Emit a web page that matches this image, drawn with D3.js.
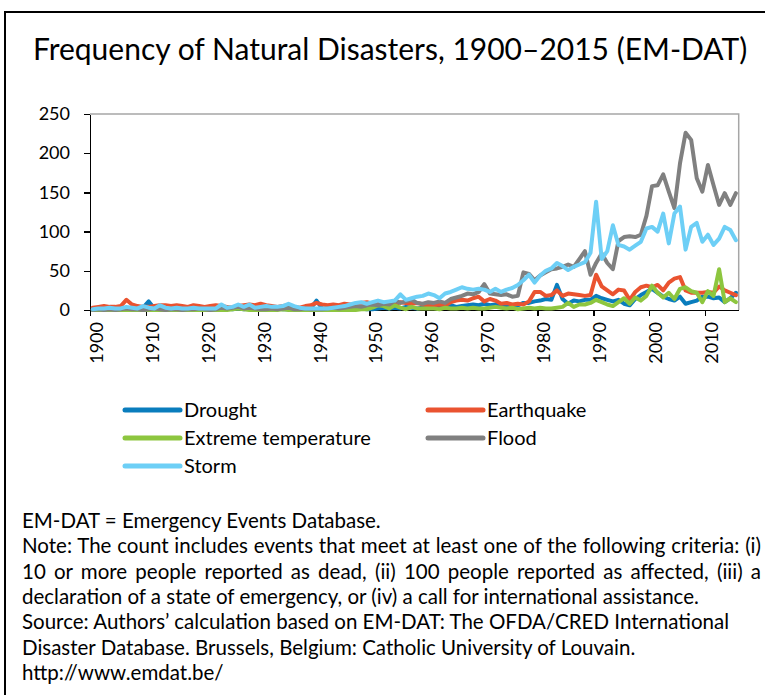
<!DOCTYPE html>
<meta charset="utf-8">
<style>
  body {
    margin: 0;
    background: #fff;
    font-family: Lato, sans-serif;
  }
  .axis path,
  .axis line {
    fill: none;
    stroke: #000;
    stroke-width: 1.5;
    shape-rendering: crispEdges;
  }
  .axis text {
    fill: #000;
    font-family: Lato, sans-serif;
    font-size: 18px;
  }
  .series {
    fill: none;
    stroke-width: 4;
    stroke-linejoin: round;
    stroke-linecap: round;
  }
  .legend text {
    font-family: Lato, sans-serif;
    font-size: 20px;
    fill: #000;
  }
  .note text {
    font-family: Lato, sans-serif;
    font-size: 20.5px;
    fill: #000;
  }
</style>
<body>
<script src="https://d3js.org/d3.v7.min.js"></script>
<script>
var years = d3.range(1900, 2016);

var drought = [
  0,1,0,1,2,1,0,2,1,3,
  11,2,1,0,1,2,1,0,1,2,
  1,2,0,1,2,1,2,1,2,1,
  1,2,1,2,1,1,2,1,1,2,
  12,2,1,2,1,2,2,3,2,1,
  1,2,3,2,3,2,4,3,2,3,
  3,4,3,5,6,4,5,6,7,6,
  8,6,7,5,5,4,6,9,9,11,
  12,14,13,32,14,8,12,11,13,13,
  18,15,13,11,13,8,6,14,19,23,
  27,22,17,14,12,17,8,10,12,17,
  17,15,16,10,15,22];

var earthquake = [
  3,4,5,4,4,5,13,7,5,4,
  4,5,6,6,5,6,5,4,6,5,
  4,5,6,5,4,3,5,6,7,6,
  8,6,5,4,5,6,4,3,5,6,
  9,7,6,7,6,8,7,6,9,10,
  8,9,6,8,7,10,9,8,9,7,
  6,6,7,6,10,12,13,12,15,17,
  11,14,12,8,9,7,8,7,11,23,
  23,18,19,25,18,21,20,19,18,19,
  45,30,25,20,26,25,13,23,29,31,
  29,32,25,35,40,42,25,22,22,22,
  23,22,30,25,22,19];

var extremeTemp = [
  0,0,0,0,0,0,0,0,0,0,
  0,0,0,0,0,0,0,0,0,0,
  0,0,0,0,0,1,2,1,0,0,
  0,0,0,0,1,0,0,0,0,0,
  0,0,0,0,0,0,0,0,1,1,
  3,6,5,2,6,3,1,4,2,2,
  2,2,1,3,2,2,3,2,3,2,
  2,3,4,3,2,3,1,2,3,2,
  3,2,2,3,4,9,4,7,7,9,
  13,10,7,5,10,15,8,16,12,18,
  31,22,16,22,14,27,29,24,22,10,
  24,18,52,10,15,10];

var flood = [
  0,1,0,1,0,1,2,1,1,0,
  1,2,1,0,1,1,0,1,1,2,
  1,0,1,3,2,3,4,2,3,2,
  1,1,2,1,2,3,1,1,2,1,
  1,1,2,3,2,3,4,5,4,6,
  7,6,8,7,12,9,11,13,9,8,
  10,9,11,9,14,16,18,21,20,23,
  33,21,20,19,20,17,18,48,46,38,
  44,48,52,53,55,58,55,65,75,45,
  60,72,60,52,88,93,94,93,96,120,
  158,159,173,151,130,187,226,217,168,151,
  185,159,134,149,134,149];

var storm = [
  1,2,2,3,2,2,4,3,2,5,
  3,2,6,3,2,3,2,2,3,2,
  2,2,2,7,3,4,7,4,7,3,
  4,5,4,4,5,8,5,3,2,2,
  2,2,2,3,4,5,7,9,10,8,
  10,12,10,11,12,20,13,15,17,18,
  21,19,15,21,23,26,29,27,26,27,
  26,23,27,23,26,28,32,38,45,35,
  44,50,53,60,56,51,55,58,61,73,
  138,65,75,108,83,81,77,82,87,104,
  106,100,123,85,123,132,77,106,111,87,
  96,83,91,106,102,89];

var seriesNames = ["Drought", "Earthquake", "Extreme temperature", "Flood", "Storm"];
var seriesValues = [drought, earthquake, extremeTemp, flood, storm];
var seriesColors = ["#0a7dbd", "#ea5330", "#8dc63f", "#808080", "#6dcff6"];

var yTicks = [0, 50, 100, 150, 200, 250];
var xTickYears = d3.range(1900, 2016, 10);

var noteLines = [
  {text: "EM-DAT = Emergency Events Database.", justify: false},
  {text: "Note: The count includes events that meet at least one of the following criteria: (i)", justify: true},
  {text: "10 or more people reported as dead, (ii) 100 people reported as affected, (iii) a", justify: true},
  {text: "declaration of a state of emergency, or (iv) a call for international assistance.", justify: false},
  {text: "Source: Authors\u2019 calculation based on EM-DAT: The OFDA/CRED International", justify: false},
  {text: "Disaster Database. Brussels, Belgium: Catholic University of Louvain.", justify: false},
  {text: "http://www.emdat.be/", justify: false}
];

var width = 765, height = 695;

var svg = d3.select("body").append("svg")
    .attr("width", width)
    .attr("height", height);

// outer frame (left + top visible)
svg.append("path")
    .attr("d", "M5,695V12H765")
    .attr("fill", "none")
    .attr("stroke", "#000")
    .attr("stroke-width", 2);

svg.append("text")
    .attr("x", 33)
    .attr("y", 60)
    .style("font-family", "Lato, sans-serif")
    .style("font-size", "30px")
    .text("Frequency of Natural Disasters, 1900\u20132015 (EM-DAT)");

var x = d3.scaleLinear()
    .domain([1900, 2016])
    .range([90, 738.7]);

var y = d3.scaleLinear()
    .domain([0, 250])
    .range([310, 114]);

// plot area border (top/right grey)
svg.append("path")
    .attr("d", "M" + x(1900) + "," + y(250) + "H" + x(2016) + "V" + y(0))
    .attr("fill", "none")
    .attr("stroke", "#a6a6a6")
    .attr("stroke-width", 1.5);

var yAxis = d3.axisLeft(y)
    .tickValues(yTicks)
    .tickSize(6)
    .tickPadding(14)
    .tickSizeOuter(0);

svg.append("g")
    .attr("class", "y axis")
    .attr("transform", "translate(" + x(1900) + ",0)")
    .call(yAxis);

var xAxis = d3.axisBottom(x)
    .tickValues(xTickYears)
    .tickSize(6)
    .tickSizeOuter(0)
    .tickFormat(d3.format("d"));

var gx = svg.append("g")
    .attr("class", "x axis")
    .attr("transform", "translate(0," + y(0) + ")")
    .call(xAxis);

gx.selectAll(".tick text")
    .attr("transform", "translate(6,12) rotate(-90)")
    .attr("x", 0)
    .attr("y", 0)
    .attr("dy", "0.35em")
    .style("text-anchor", "end");

var line = d3.line()
    .x(function(d, i) { return x(years[i] + 0.5); })
    .y(function(d) { return y(d); });

svg.selectAll(".series")
    .data(seriesValues)
    .enter()
    .append("path")
    .attr("class", "series")
    .attr("stroke", function(d, i) { return seriesColors[i]; })
    .attr("d", line);

// legend
var legend = svg.append("g").attr("class", "legend");
var legendPos = [[125, 410], [428, 410], [125, 438], [428, 438], [125, 466]];

var item = legend.selectAll("g")
    .data(seriesNames)
    .enter()
    .append("g")
    .attr("transform", function(d, i) { return "translate(" + legendPos[i][0] + "," + legendPos[i][1] + ")"; });

item.append("line")
    .attr("x1", 0)
    .attr("x2", 55)
    .attr("stroke", function(d, i) { return seriesColors[i]; })
    .attr("stroke-width", 5)
    .attr("stroke-linecap", "round");

item.append("text")
    .attr("x", 59)
    .attr("dy", "0.35em")
    .text(function(d) { return d; });

// note
var note = svg.append("g").attr("class", "note");
note.selectAll("text")
    .data(noteLines)
    .enter()
    .append("text")
    .attr("x", 22)
    .attr("y", function(d, i) { return 528 + i * 25.3; })
    .text(function(d) { return d.text; })
    .each(function(d) {
      if (!d.justify) return;
      var el = d3.select(this);
      var gaps = d.text.split(" ").length - 1;
      var extra = (739 - this.getComputedTextLength()) / gaps;
      el.attr("word-spacing", Math.max(0, extra));
    });
</script>
